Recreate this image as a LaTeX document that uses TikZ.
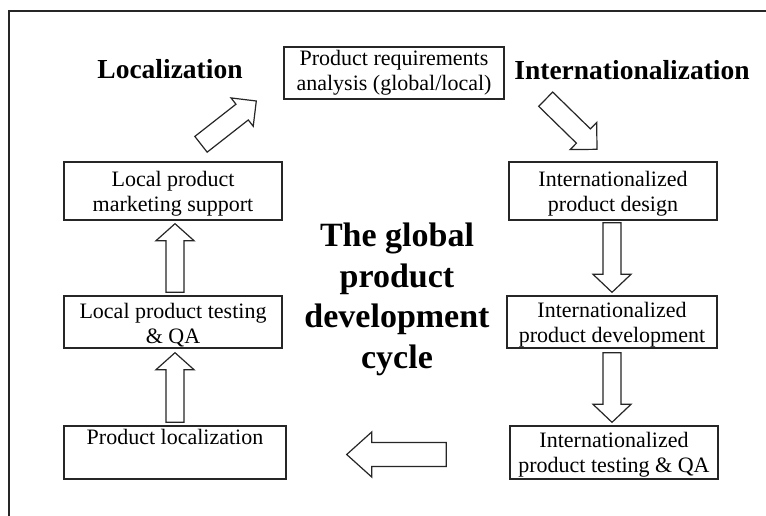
\documentclass[tikz,border=0pt]{standalone}
\usepackage{fontspec}
\setmainfont{Liberation Serif}
\usetikzlibrary{calc}
\begin{document}
\begin{tikzpicture}[x=1pt,y=-1pt,
  frame/.style={draw=black!85, line width=1.2pt},
  stepbox/.style={draw=black!85, line width=1.4pt, inner sep=0pt, fill=white},
  boxtext/.style={font=\fontsize{22}{25}\selectfont, align=center, inner sep=0pt},
  heading/.style={font=\bfseries\fontsize{27.5}{33}\selectfont, inner sep=0pt},
  cycletitle/.style={font=\bfseries\fontsize{34}{40.5}\selectfont, align=center, inner sep=0pt},
  % hollow block arrow: {shaft half width}{head half width}{head length}
  blockarrow/.style n args={3}{draw=black!85, fill=white, line width=1.2pt, line join=miter,
    to path={let \p1=(\tikztostart), \p2=(\tikztotarget),
      \n1={atan2(\y2-\y1,\x2-\x1)} in
      ($(\p1)+(\n1+90:#1)$)
      -- ($(\p2)+(\n1+180:#3)+(\n1+90:#1)$)
      -- ($(\p2)+(\n1+180:#3)+(\n1+90:#2)$)
      -- (\p2)
      -- ($(\p2)+(\n1+180:#3)+(\n1-90:#2)$)
      -- ($(\p2)+(\n1+180:#3)+(\n1-90:#1)$)
      -- ($(\p1)+(\n1-90:#1)$) -- cycle}},
]
\useasboundingbox (0,0) rectangle (766,516);
\fill[white] (0,0) rectangle (766,516);

% open frame (top and left edges)
\draw[frame] (9,516) -- (9,11) -- (766,11);

% process boxes
\node[stepbox, minimum width=220pt, minimum height=52pt] (req)   at (394,73)    {};
\node[stepbox, minimum width=218pt, minimum height=58pt] (mkt)   at (173,191)   {};
\node[stepbox, minimum width=218pt, minimum height=52pt] (test)  at (173,322)   {};
\node[stepbox, minimum width=222pt, minimum height=53pt] (loc)   at (175,452.5) {};
\node[stepbox, minimum width=208pt, minimum height=58pt] (des)   at (613,191)   {};
\node[stepbox, minimum width=210pt, minimum height=52pt] (dev)   at (612,322)   {};
\node[stepbox, minimum width=208pt, minimum height=53pt] (itest) at (614,452.5) {};

% box captions
\node[boxtext] (req-t)   at (req.center) {Product requirements\\analysis (global/local)};
\node[boxtext] (mkt-t)   at ([yshift=-3pt]mkt.center) {Local product\\marketing support};
\node[boxtext] (test-t)  at ([yshift=-3pt]test.center) {Local product testing\\\& QA};
\node[boxtext, anchor=base] (loc-t) at ([yshift=-19pt]loc.north) {Product localization};
\node[boxtext] (des-t)   at ([yshift=-3pt]des.center) {Internationalized\\product design};
\node[boxtext] (dev-t)   at ([yshift=-3pt]dev.center) {Internationalized\\product development};
\node[boxtext] (itest-t) at ([yshift=-2pt]itest.center) {Internationalized\\product testing \& QA};

% headings
\node[heading, anchor=base] (l10n) at (170,79) {Localization};
\node[heading, anchor=base] (i18n) at (632,80) {Internationalization};
\node[cycletitle] (cycle) at (397,299.6) {The global\\product\\development\\cycle};

% cycle arrows
\draw[blockarrow={10pt}{18pt}{18pt}] ([xshift=28pt,yshift=17pt]mkt.north) to ([xshift=-27pt,yshift=-28pt]req.west);
\draw[blockarrow={10pt}{19pt}{19pt}] ([xshift=41pt,yshift=0.5pt]req.south east) to ([xshift=-16pt,yshift=12pt]des.north);
\draw[blockarrow={9pt}{19pt}{18pt}] ([xshift=-1pt,yshift=-2pt]des.south) to ([yshift=3pt]dev.north);
\draw[blockarrow={9pt}{19pt}{18pt}] ([yshift=-4pt]dev.south) to ([yshift=3pt]itest.north -| dev.south);
\draw[blockarrow={12pt}{22.5pt}{25pt}] ([xshift=-63pt,yshift=-2pt]itest.west) to ([xshift=60pt,yshift=-2pt]loc.east);
\draw[blockarrow={9pt}{19pt}{17pt}] ([yshift=3pt]loc.north) to ([xshift=2pt,yshift=-4pt]test.south);
\draw[blockarrow={9pt}{19pt}{17pt}] ([xshift=2pt,yshift=3pt]test.north) to ([xshift=2pt,yshift=-3pt]mkt.south);
\end{tikzpicture}
\end{document}
